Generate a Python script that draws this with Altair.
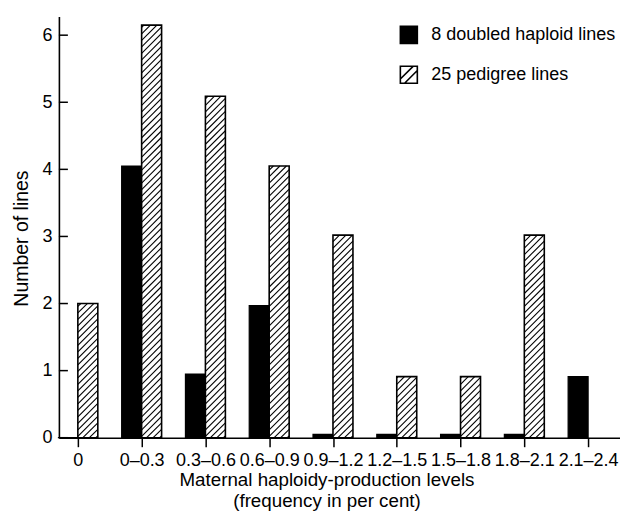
import json
import altair as alt
import pandas as pd

# ---------------- data ----------------
CATEGORIES = ["0", "0–0.3", "0.3–0.6", "0.6–0.9", "0.9–1.2",
              "1.2–1.5", "1.5–1.8", "1.8–2.1", "2.1–2.4"]
DOUBLED_HAPLOID = [0, 4.05, 0.95, 1.97, 0.05, 0.05, 0.05, 0.05, 0.91]
PEDIGREE = [2.0, 6.15, 5.09, 4.05, 3.02, 0.91, 0.91, 3.02, 0]
SERIES = ["8 doubled haploid lines", "25 pedigree lines"]
Y_TICKS = [0, 1, 2, 3, 4, 5, 6]
X_TITLE = ["Maternal haploidy-production levels", "(frequency in per cent)"]
Y_TITLE = "Number of lines"

# ---------------- layout / style ----------------
W, H = 562, 422
PAD_L, PAD_T = 59, 16
Y_MAX = 6.28
X_MIN, X_MAX = -0.297, 8.50
PX_X = W / (X_MAX - X_MIN)
PX_Y = H / Y_MAX
BAR_PX = 20
BAR_W = BAR_PX / PX_X           # bar width in x units
GAP = 6.5 / PX_Y                # hatch spacing (vertical) in y units
RISE = BAR_PX / PX_Y            # 45 degree hatch rise across a bar
FONT = "Liberation Sans"
HATCH_PATH = "M-1,-1L1,-1L1,1L-1,1Z M-1,0.5L0.5,-1 M-0.5,1L1,-0.5"

rows = []
for i, c in enumerate(CATEGORIES):
    rows.append({"idx": i, "category": c, "series": SERIES[0], "value": DOUBLED_HAPLOID[i]})
    rows.append({"idx": i, "category": c, "series": SERIES[1], "value": PEDIGREE[i]})
df = pd.DataFrame(rows)

x_scale = alt.Scale(domain=[X_MIN, X_MAX], nice=False, zero=False)
y_scale = alt.Scale(domain=[0, Y_MAX], nice=False, zero=True)
label_expr = json.dumps(CATEGORIES, ensure_ascii=False) + "[datum.value]"

x_axis = alt.Axis(values=list(range(len(CATEGORIES))), labelExpr=label_expr,
                  tickSize=9, labelPadding=5, labelFlush=False, labelOverlap=False,
                  labelFontSize=18,
                  titleX=268, titleY=33, titleBaseline="top", titleLineHeight=21,
                  titleAlign="center", titleFontSize=18.8)
y_axis = alt.Axis(values=Y_TICKS, ticks=False, tickSize=0, labelPadding=7,
                  labelFontSize=18, titleFontSize=19.5,
                  titleX=-31, titleY=222, titleBaseline="alphabetic")

legend = alt.Legend(title=None, orient="none", legendX=341, legendY=9,
                    symbolSize=289, symbolStrokeColor="black", symbolStrokeWidth=1.6,
                    symbolOpacity=1,
                    labelFont=FONT, labelFontSize=18, labelColor="black",
                    labelOffset=13, rowPadding=15, padding=0, labelLimit=400)
fill_scale = alt.Scale(domain=SERIES, range=["black", "white"])
stroke_scale = alt.Scale(domain=SERIES, range=["black", "black"])
shape_scale = alt.Scale(domain=SERIES, range=["square", HATCH_PATH])


def X(field):
    return alt.X(field, scale=x_scale, axis=x_axis, title=X_TITLE)


def Y(field):
    return alt.Y(field, scale=y_scale, axis=y_axis, title=Y_TITLE)


base = alt.Chart(df)
dh = base.transform_filter(f"datum.series === '{SERIES[0]}'")
ped = base.transform_filter(f"datum.series === '{SERIES[1]}' && datum.value > 0")

black_bars = dh.transform_calculate(
    x0=f"datum.idx - {BAR_W}"
).mark_rect(fill="black", stroke="black", strokeWidth=1.2).encode(
    x=X("x0:Q"),
    x2="idx:Q",
    y=Y("value:Q"),
    y2=alt.datum(0),
)

white_bars = ped.transform_calculate(
    x1=f"datum.idx + {BAR_W}"
).mark_rect(fill="white").encode(
    x=X("idx:Q"),
    x2="x1:Q",
    y=Y("value:Q"),
    y2=alt.datum(0),
)

hatch = ped.transform_calculate(
    k=f"sequence(0, ceil((datum.value + {RISE}) / {GAP}) + 1)"
).transform_flatten(["k"]).transform_calculate(
    y0=f"datum.k * {GAP} - {RISE} + {GAP} * 0.3"
).transform_calculate(
    t0=f"max(0, -datum.y0 / {RISE})"
).transform_calculate(
    t1=f"min(1, (datum.value - datum.y0) / {RISE})"
).transform_filter("datum.t1 > datum.t0").transform_calculate(
    hx0=f"datum.idx + datum.t0 * {BAR_W}"
).transform_calculate(
    hx1=f"datum.idx + datum.t1 * {BAR_W}"
).transform_calculate(
    hy0=f"datum.y0 + datum.t0 * {RISE}"
).transform_calculate(
    hy1=f"datum.y0 + datum.t1 * {RISE}"
).mark_rule(color="black", strokeWidth=1.1).encode(
    x=X("hx0:Q"),
    x2="hx1:Q",
    y=Y("hy0:Q"),
    y2="hy1:Q",
)

outline = ped.transform_calculate(
    x1=f"datum.idx + {BAR_W}"
).mark_rect(stroke="black", strokeWidth=1.6, fillOpacity=0).encode(
    x=X("idx:Q"),
    x2="x1:Q",
    y=Y("value:Q"),
    y2=alt.datum(0),
)

yticks = alt.Chart(pd.DataFrame({"t": Y_TICKS})).mark_rule(
    color="black", strokeWidth=1.5
).encode(
    y=Y("t:Q"),
    x=alt.value(0),
    x2=alt.value(9),
)

legend_pts = base.mark_point(filled=True, clip=True,
                             strokeWidth=1.6, opacity=1).encode(
    x=alt.value(-100),
    y=alt.value(-100),
    shape=alt.Shape("series:N", scale=shape_scale, legend=legend),
    fill=alt.Fill("series:N", scale=fill_scale, legend=legend),
    stroke=alt.Stroke("series:N", scale=stroke_scale, legend=legend),
)

chart = alt.layer(black_bars, white_bars, hatch, outline, yticks, legend_pts).properties(
    width=W, height=H,
    padding={"left": PAD_L, "top": PAD_T, "right": 0, "bottom": 82},
    autosize="none",
).configure_view(strokeWidth=0).configure_axis(
    labelFont=FONT, labelColor="black",
    titleFont=FONT, titleColor="black", titleFontWeight="normal",
    domainColor="black", domainWidth=1.6, tickColor="black", tickWidth=1.5,
    grid=False,
)

chart.save("out.html", embed_options={"renderer": "svg", "actions": False})
